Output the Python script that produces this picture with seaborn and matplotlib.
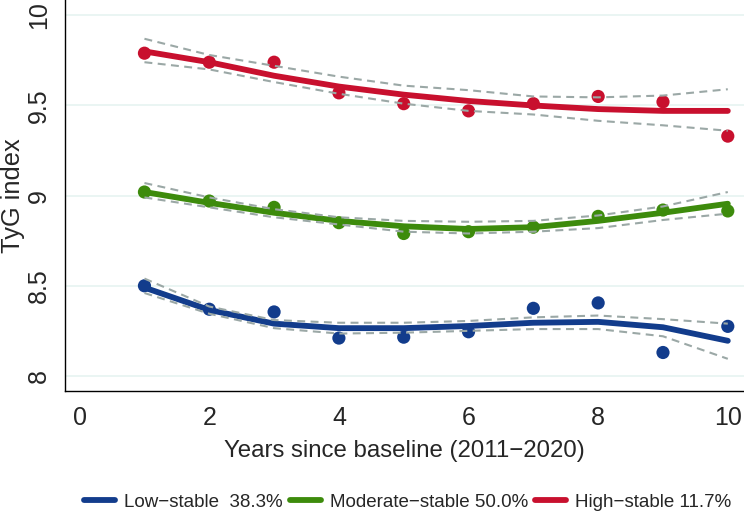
import numpy as np
import pandas as pd
import matplotlib
matplotlib.use('Agg')
import matplotlib.pyplot as plt
import seaborn as sns

years = [1, 2, 3, 4, 5, 6, 7, 8, 9, 10]
groups = ['Low\u2212stable  38.3%', 'Moderate\u2212stable 50.0%', 'High\u2212stable 11.7%']
colors = ['#123c8c', '#3d8b0c', '#c8102e']

# observed means
low_obs = [8.50, 8.37, 8.355, 8.21, 8.215, 8.245, 8.375, 8.405, 8.13, 8.275]
mod_obs = [9.02, 8.97, 8.935, 8.85, 8.79, 8.80, 8.825, 8.885, 8.92, 8.915]
high_obs = [9.79, 9.74, 9.74, 9.57, 9.51, 9.47, 9.51, 9.55, 9.52, 9.33]

# fitted trajectories
low_fit = [8.49, 8.366, 8.29, 8.265, 8.265, 8.277, 8.295, 8.30, 8.27, 8.195]
mod_fit = [9.02, 8.96, 8.905, 8.86, 8.83, 8.815, 8.825, 8.86, 8.905, 8.955]
high_fit = [9.80, 9.74, 9.665, 9.605, 9.56, 9.525, 9.50, 9.48, 9.47, 9.47]

# confidence bands
low_up = [8.54, 8.385, 8.31, 8.295, 8.295, 8.305, 8.325, 8.335, 8.315, 8.29]
low_lo = [8.46, 8.345, 8.265, 8.235, 8.24, 8.25, 8.26, 8.26, 8.22, 8.095]
mod_up = [9.07, 8.99, 8.925, 8.88, 8.86, 8.855, 8.86, 8.89, 8.94, 9.02]
mod_lo = [8.99, 8.935, 8.88, 8.84, 8.80, 8.79, 8.80, 8.82, 8.865, 8.90]
high_up = [9.87, 9.78, 9.72, 9.66, 9.61, 9.585, 9.55, 9.545, 9.555, 9.59]
high_lo = [9.74, 9.70, 9.63, 9.565, 9.51, 9.47, 9.45, 9.415, 9.39, 9.36]

obs = [low_obs, mod_obs, high_obs]
fit = [low_fit, mod_fit, high_fit]
ups = [low_up, mod_up, high_up]
los = [low_lo, mod_lo, high_lo]

rows = []
for g, o, f, u, l in zip(groups, obs, fit, ups, los):
    for i, yr in enumerate(years):
        rows.append({'year': yr, 'group': g, 'obs': o[i], 'fit': f[i], 'up': u[i], 'lo': l[i]})
df = pd.DataFrame(rows)

sns.set_style('white')
plt.rcParams['font.family'] = ['Liberation Sans', 'DejaVu Sans']

fig = plt.figure(figsize=(7.44, 5.13), dpi=100)
ax = fig.add_axes([0.087, 0.238, 0.913, 0.762])

for v in [8, 8.5, 9, 9.5, 10]:
    ax.axhline(v, color='#e6f4f1', lw=1.2, zorder=0)

palette = dict(zip(groups, colors))
sns.lineplot(data=df, x='year', y='up', units='group', estimator=None, color='#9ba8a6',
             lw=1.5, linestyle=(0, (3.8, 2.6)), ax=ax, zorder=4)
sns.lineplot(data=df, x='year', y='lo', units='group', estimator=None, color='#9ba8a6',
             lw=1.5, linestyle=(0, (3.8, 2.6)), ax=ax, zorder=4)
sns.scatterplot(data=df, x='year', y='obs', hue='group', palette=palette, s=90,
                edgecolor='none', legend=False, ax=ax, zorder=3)
sns.lineplot(data=df, x='year', y='fit', hue='group', palette=palette, lw=4.2,
             ax=ax, zorder=2)

ax.set_xlim(-0.23, 10.25)
ax.set_ylim(7.917, 10.085)
ax.set_xticks([0, 2, 4, 6, 8, 10])
ax.set_yticks([8, 8.5, 9, 9.5, 10])
ax.set_yticklabels(['8', '8.5', '9', '9.5', '10'], rotation=90, va='center')
ax.tick_params(axis='both', direction='out', length=7, width=1, labelsize=18, color='black')
ax.tick_params(axis='x', pad=4)
ax.tick_params(axis='y', pad=3)
ax.set_xlabel('Years since baseline (2011\u22122020)', fontsize=17.3)
ax.set_ylabel('TyG index', fontsize=18.3)
ax.xaxis.set_label_coords(0.5, -0.125)
ax.yaxis.set_label_coords(-0.058, 0.5)
for s in ['top', 'right']:
    ax.spines[s].set_visible(False)
for s in ['left', 'bottom']:
    ax.spines[s].set_color('black')
    ax.spines[s].set_linewidth(1)

handles, labels = ax.get_legend_handles_labels()
ax.legend().remove()
fig.legend(handles, labels, loc='center left', bbox_to_anchor=(0.113, 0.021), ncol=3,
           frameon=False, fontsize=13.5, handlelength=1.65, handletextpad=0.5,
           columnspacing=0.35, borderaxespad=0, borderpad=0)

fig.savefig('out.png', dpi=100)
